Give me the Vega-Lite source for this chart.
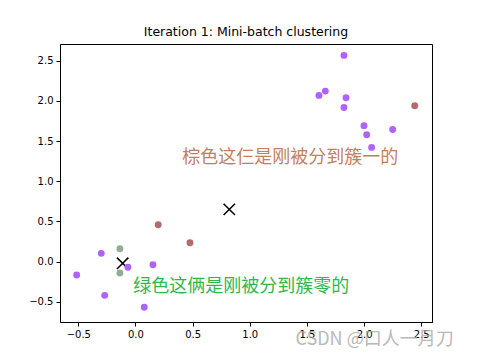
{
  "$schema": "https://vega.github.io/schema/vega-lite/v6.json",
  "autosize": "none",
  "width": 372,
  "height": 278,
  "padding": {"left": 60, "top": 44, "right": 48, "bottom": 38},
  "background": "white",
  "title": {"text": "Iteration 1: Mini-batch clustering", "font": "DejaVu Sans", "fontSize": 12.5, "fontWeight": "normal", "color": "black", "offset": 6, "anchor": "middle"},
  "config": {
    "view": {"stroke": "black", "strokeWidth": 1},
    "axis": {"grid": false, "domainColor": "black", "tickColor": "black", "tickSize": 4, "labelFont": "DejaVu Sans", "labelFontSize": 10, "labelColor": "black", "labelPadding": 3, "title": null, "format": ".1f"}
  },
  "resolve": {"scale": {"color": "independent"}},
  "datasets": {
    "pts": [
      {"x": 1.824, "y": 2.568, "group": "other"},
      {"x": 1.661, "y": 2.123, "group": "other"},
      {"x": 1.605, "y": 2.070, "group": "other"},
      {"x": 1.842, "y": 2.040, "group": "other"},
      {"x": 1.824, "y": 1.920, "group": "other"},
      {"x": 2.443, "y": 1.940, "group": "c1"},
      {"x": 1.999, "y": 1.691, "group": "other"},
      {"x": 2.023, "y": 1.579, "group": "other"},
      {"x": 2.250, "y": 1.646, "group": "other"},
      {"x": 2.066, "y": 1.422, "group": "other"},
      {"x": 0.199, "y": 0.458, "group": "c1"},
      {"x": 0.477, "y": 0.234, "group": "c1"},
      {"x": -0.136, "y": 0.159, "group": "c0"},
      {"x": -0.299, "y": 0.102, "group": "other"},
      {"x": -0.066, "y": -0.072, "group": "other"},
      {"x": 0.153, "y": -0.040, "group": "other"},
      {"x": -0.136, "y": -0.143, "group": "c0"},
      {"x": -0.514, "y": -0.168, "group": "other"},
      {"x": -0.269, "y": -0.421, "group": "other"},
      {"x": 0.077, "y": -0.570, "group": "other"}
    ],
    "cent": [
      {"x": 0.821, "y": 0.650},
      {"x": -0.112, "y": -0.022}
    ],
    "notes": [
      {"x": 0.41, "y": 1.295, "label": "棕色这仨是刚被分到簇一的", "kind": "brown"},
      {"x": -0.02, "y": -0.311, "label": "绿色这俩是刚被分到簇零的", "kind": "green"}
    ],
    "mark": [
      {"x": 1.40, "y": -0.978, "label": "CSDN @口人一月刀"}
    ]
  },
  "layer": [
    {
      "data": {"name": "cent"},
      "mark": {"type": "point", "shape": "M-1,-1L1,1M1,-1L-1,1", "size": 130, "strokeWidth": 1.5, "color": "black", "opacity": 1, "filled": false},
      "encoding": {
        "x": {"field": "x", "type": "quantitative", "scale": {"domain": [-0.66, 2.594], "nice": false, "zero": false}, "axis": {"values": [-0.5, 0, 0.5, 1, 1.5, 2, 2.5]}},
        "y": {"field": "y", "type": "quantitative", "scale": {"domain": [-0.753, 2.71], "nice": false, "zero": false}, "axis": {"values": [-0.5, 0, 0.5, 1, 1.5, 2, 2.5]}}
      }
    },
    {
      "data": {"name": "pts"},
      "mark": {"type": "circle", "size": 48, "opacity": 1},
      "encoding": {
        "x": {"field": "x", "type": "quantitative"},
        "y": {"field": "y", "type": "quantitative"},
        "color": {"field": "group", "type": "nominal", "legend": null, "scale": {"domain": ["other", "c1", "c0"], "range": ["#b063fb", "#b36c6c", "#8fae95"]}}
      }
    },
    {
      "data": {"name": "notes"},
      "mark": {"type": "text", "align": "left", "baseline": "middle", "font": "Noto Sans CJK SC", "fontSize": 18},
      "encoding": {
        "x": {"field": "x", "type": "quantitative"},
        "y": {"field": "y", "type": "quantitative"},
        "text": {"field": "label"},
        "color": {"field": "kind", "type": "nominal", "legend": null, "scale": {"domain": ["brown", "green"], "range": ["#c4805c", "#2db84d"]}}
      }
    },
    {
      "data": {"name": "mark"},
      "mark": {"type": "text", "align": "left", "baseline": "middle", "font": "Noto Sans CJK SC", "fontSize": 18, "color": "#a8a8a8", "opacity": 0.8},
      "encoding": {
        "x": {"field": "x", "type": "quantitative"},
        "y": {"field": "y", "type": "quantitative"},
        "text": {"field": "label"}
      }
    }
  ]
}
